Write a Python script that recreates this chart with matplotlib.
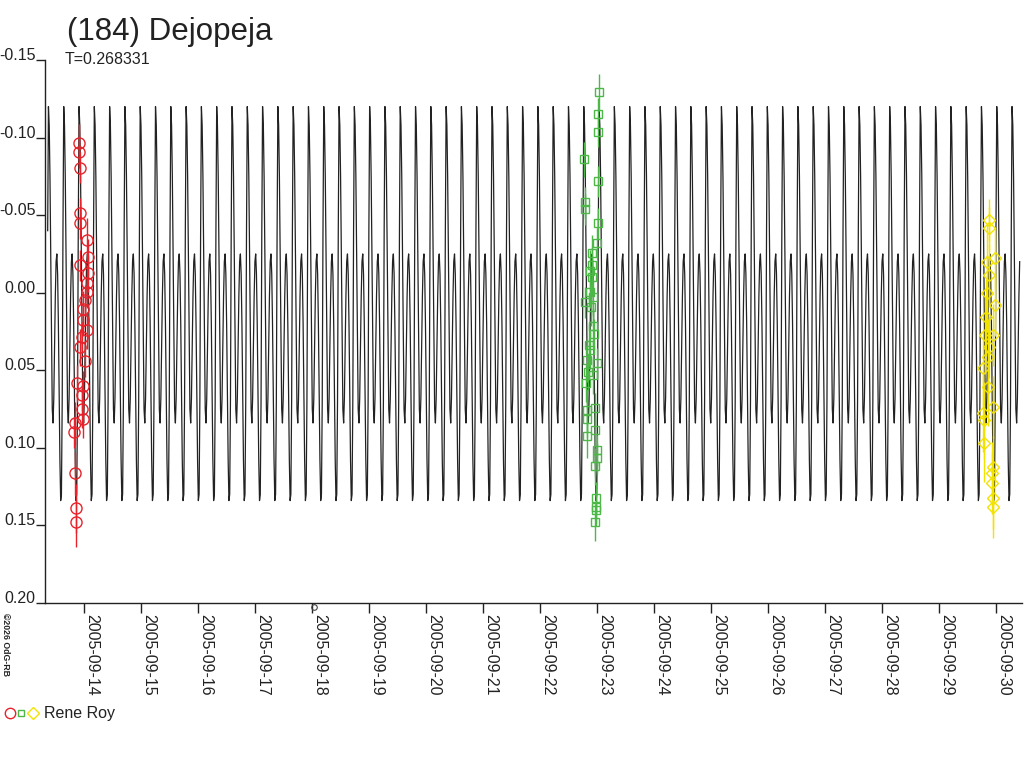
import matplotlib
matplotlib.use("Agg")
import matplotlib.pyplot as plt
import matplotlib.dates as mdates
from matplotlib.lines import Line2D
import numpy as np
from datetime import datetime

plt.rcParams['font.family'] = ['Liberation Sans', 'DejaVu Sans']

# ---------------- data ----------------
title = "(184) Dejopeja"
period_text = "T=0.268331"
period = 0.268331          # days
epoch_max = 13.907         # day of Sept 2005 of a primary maximum

# one-period model shape (phase from primary max, magnitude)
shape_phase = [0.00, 0.05, 0.10, 0.15, 0.20, 0.25, 0.30, 0.35, 0.40, 0.45,
               0.50, 0.55, 0.60, 0.65, 0.70, 0.75, 0.80, 0.85, 0.90, 0.95]
shape_mag = [-0.120, -0.108, -0.075, -0.025, 0.030, 0.075, 0.084, 0.068, 0.035, 0.002,
             -0.020, -0.025, -0.012, 0.020, 0.065, 0.108, 0.134, 0.130, 0.070, -0.040]
model_start, model_end = 13.345, 30.42

red_day = [13.907, 13.907, 13.925, 13.925, 13.925, 14.047, 14.065, 13.925, 14.065, 14.047,
           14.047, 14.012, 13.977, 13.977, 14.047, 13.960, 13.925, 14.012, 13.872, 13.977,
           13.960, 13.960, 13.977, 13.837, 13.819, 13.837, 13.854, 13.854]
red_mag = [-0.0968, -0.0904, -0.0807, -0.0511, -0.0447, -0.0343, -0.0227, -0.0176, -0.0124, -0.0060,
           -0.0002, 0.0050, 0.0108, 0.0179, 0.0243, 0.0288, 0.0353, 0.0443, 0.0585, 0.0604,
           0.0662, 0.0752, 0.0816, 0.0842, 0.0900, 0.1164, 0.1390, 0.1480]
red_err = [0.012, 0.010, 0.010, 0.010, 0.010, 0.014, 0.012, 0.010, 0.012, 0.012,
           0.010, 0.010, 0.012, 0.010, 0.012, 0.010, 0.012, 0.010, 0.012, 0.010,
           0.010, 0.012, 0.012, 0.014, 0.010, 0.014, 0.016, 0.016]

green_day = [23.030, 23.012, 23.012, 22.767, 23.012, 22.784, 22.784, 23.012, 22.995, 22.907,
             22.907, 22.872, 22.907, 22.872, 22.925, 22.784, 22.889, 22.925, 22.942, 22.854,
             22.872, 22.819, 22.995, 22.837, 22.925, 22.802, 22.960, 22.819, 22.819, 22.960,
             22.819, 22.995, 22.995, 22.960, 22.977, 22.977, 22.977, 22.960]
green_mag = [-0.1291, -0.1155, -0.1039, -0.0859, -0.0717, -0.0582, -0.0537, -0.0447, -0.0318, -0.0253,
             -0.0176, -0.0137, -0.0099, -0.0002, 0.0030, 0.0063, 0.0095, 0.0217, 0.0269, 0.0340,
             0.0372, 0.0436, 0.0456, 0.0514, 0.0533, 0.0585, 0.0746, 0.0759, 0.0817, 0.0888,
             0.0926, 0.1017, 0.1068, 0.1120, 0.1320, 0.1384, 0.1403, 0.1480]
green_err = [0.012, 0.010, 0.010, 0.011, 0.010, 0.010, 0.010, 0.010, 0.010, 0.012,
             0.012, 0.014, 0.012, 0.010, 0.012, 0.010, 0.012, 0.012, 0.010, 0.014,
             0.012, 0.014, 0.010, 0.012, 0.012, 0.012, 0.010, 0.014, 0.012, 0.010,
             0.014, 0.010, 0.010, 0.012, 0.010, 0.010, 0.010, 0.012]

yellow_day = [29.872, 29.872, 29.837, 29.977, 29.872, 29.837, 29.977, 29.819, 29.802, 29.942,
              29.872, 29.854, 29.767, 29.854, 29.942, 29.767, 29.784, 29.784, 29.942, 29.925,
              29.925, 29.942, 29.942]
yellow_mag = [-0.0466, -0.0414, -0.0195, -0.0221, -0.0111, 0.0005, 0.0082, 0.0159, 0.0275, 0.0275,
              0.0352, 0.0417, 0.0488, 0.0610, 0.0739, 0.0778, 0.0823, 0.0971, 0.1126, 0.1164,
              0.1229, 0.1325, 0.1383]
yellow_err = [0.014, 0.014, 0.025, 0.020, 0.020, 0.025, 0.020, 0.025, 0.025, 0.020,
              0.020, 0.025, 0.025, 0.025, 0.020, 0.025, 0.025, 0.025, 0.020, 0.020,
              0.020, 0.020, 0.020]

y_ticks = [-0.15, -0.10, -0.05, 0.00, 0.05, 0.10, 0.15, 0.20]
y_tick_labels = ["-0.15", "-0.10", "-0.05", "0.00", "0.05", "0.10", "0.15", "0.20"]
x_tick_days = [14, 15, 16, 17, 18, 19, 20, 21, 22, 23, 24, 25, 26, 27, 28, 29, 30]
x_tick_labels = ["2005-09-14", "2005-09-15", "2005-09-16", "2005-09-17", "2005-09-18",
                 "2005-09-19", "2005-09-20", "2005-09-21", "2005-09-22", "2005-09-23",
                 "2005-09-24", "2005-09-25", "2005-09-26", "2005-09-27", "2005-09-28",
                 "2005-09-29", "2005-09-30"]
observer = "Rene Roy"
copyright_text = "\u00a92026 OdG-RB"
x_min_day, x_max_day = 13.31, 30.45
y_min, y_max = -0.15, 0.20

col_red = '#e8222a'
col_green = '#4db848'
col_yellow = '#f2e200'
col_curve = '#222222'
col_text = '#222222'

# ---------------- helpers ----------------
base = mdates.date2num(datetime(2005, 9, 1)) - 1.0
def dnum(days):
    return base + np.asarray(days, dtype=float)

# ---------------- figure ----------------
fig = plt.figure(figsize=(10.24, 7.68), dpi=100)
W, H = 1024.0, 768.0
ax = fig.add_axes([45 / W, (H - 603) / H, (1022 - 45) / W, (603 - 60) / H])

# periodic model: tile the one-period shape across the date range
k = np.arange(-4, 70)
ph = np.asarray(shape_phase)
t = (epoch_max + (k[:, None] + ph[None, :]) * period).ravel()
m = np.tile(np.asarray(shape_mag), len(k))
sel = (t >= model_start) & (t <= model_end)
ax.plot(dnum(t[sel]), m[sel], color=col_curve, lw=0.9, zorder=2)

# observations
for days, mags, errs, col, mk, ms in [
        (red_day, red_mag, red_err, col_red, 'o', 8),
        (green_day, green_mag, green_err, col_green, 's', 5.5),
        (yellow_day, yellow_mag, yellow_err, col_yellow, 'D', 6)]:
    ax.errorbar(dnum(days), mags, yerr=errs, fmt='none', ecolor=col, elinewidth=1.0, zorder=3)
    ax.plot(dnum(days), mags, linestyle='none', marker=mk, ms=ms, mfc='none', mec=col,
            mew=1.0, zorder=4)

ax.set_xlim(dnum(x_min_day), dnum(x_max_day))
ax.set_ylim(y_max, y_min)

for s in ['top', 'right']:
    ax.spines[s].set_visible(False)
for s in ['left', 'bottom']:
    ax.spines[s].set_color('#222222')
    ax.spines[s].set_linewidth(1.0)

ax.set_yticks(y_ticks)
ax.set_yticklabels(y_tick_labels)
ax.set_xticks(dnum(x_tick_days))
ax.set_xticklabels(x_tick_labels)
ax.tick_params(axis='y', direction='out', length=6.5, width=1.0, pad=0.5,
               labelsize=11.5, colors=col_text)
ax.tick_params(axis='x', direction='out', length=7.2, width=1.0, pad=0.8,
               labelsize=11.5, colors=col_text)
for lab in ax.get_yticklabels():
    lab.set_va('baseline')
for lab in ax.get_xticklabels():
    lab.set_rotation(-90)
    lab.set_ha('left')
    lab.set_va('top')

# small mark under the axis
ax.plot([(313.5 - 45) / 977.0], [-(607 - 603) / 543.0], transform=ax.transAxes,
        marker='o', ms=4, mfc='none', mec='#444444', mew=0.8, clip_on=False)

# titles
fig.text(67 / W, 1 - 40 / H, title, fontsize=22.5, color=col_text, va='baseline', ha='left')
fig.text(65 / W, 1 - 64 / H, period_text, fontsize=11.5, color=col_text, va='baseline', ha='left')

# copyright
fig.text(1 / W, 1 - 613 / H, copyright_text, rotation=-90, fontsize=6.3, weight='bold',
         color=col_text, ha='left', va='top')

# legend
for xp, mk, col, ms in [(10, 'o', col_red, 7.5), (21, 's', col_green, 5), (33, 'D', col_yellow, 6)]:
    fig.add_artist(Line2D([xp / W], [1 - 713 / H], transform=fig.transFigure, marker=mk,
                          ms=ms, mfc='none', mec=col, mew=1.0, linestyle='none'))
fig.text(44 / W, 1 - 718 / H, observer, fontsize=11.5, color=col_text, va='baseline', ha='left')

fig.savefig("out.png", dpi=100)
